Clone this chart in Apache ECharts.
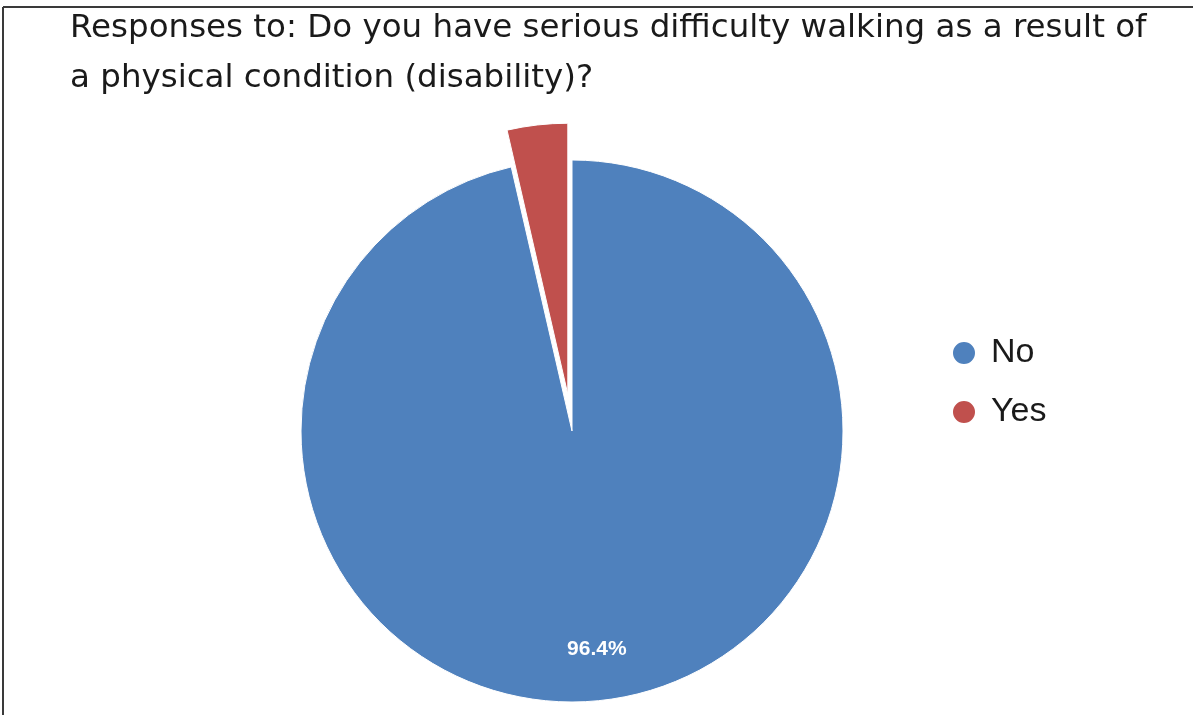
<!DOCTYPE html>
<html>
<head>
<meta charset="utf-8">
<style>
  html, body { margin: 0; padding: 0; background: #fff; }
  #chart { width: 1193px; height: 715px; }
</style>
<script src="https://cdn.jsdelivr.net/npm/echarts@6/dist/echarts.min.js"></script>
</head>
<body>
<div id="chart"></div>
<script>
// Survey responses (percent of respondents)
const categories = ['No', 'Yes'];
const shares = [96.4, 3.6];
const sliceColors = ['#4F81BD', '#C0504D'];
const titleText = 'Responses to: Do you have serious difficulty walking as a result of\na physical condition (disability)?';

const pieData = categories.map((name, i) => ({
  name: name,
  value: shares[i],
  selected: name === 'Yes',
  itemStyle: { color: sliceColors[i] }
}));

// transparent ring carrying the percentage label further out on the slice
const labelData = categories.map((name, i) => ({
  name: name,
  value: shares[i],
  itemStyle: { color: 'rgba(0,0,0,0)' },
  label: { show: name === 'No' }
}));

const chart = echarts.init(document.getElementById('chart'), null, { renderer: 'canvas' });

chart.setOption({
  animation: false,
  backgroundColor: '#ffffff',
  title: {
    text: titleText,
    left: 70,
    top: 4,
    padding: 0,
    textStyle: {
      fontFamily: 'DejaVu Sans',
      fontWeight: 'normal',
      fontSize: 32.5,
      lineHeight: 50,
      color: '#1a1a1a'
    }
  },
  legend: {
    orient: 'vertical',
    left: 946,
    top: 331,
    itemWidth: 24,
    itemHeight: 24,
    itemGap: 25,
    icon: 'circle',
    selectedMode: false,
    textStyle: {
      fontFamily: 'Liberation Sans',
      fontSize: 34,
      color: '#1a1a1a',
      padding: [0, 0, 0, 10]
    },
    data: categories
  },
  // frame edges along the top and left of the chart area
  graphic: [
    {
      type: 'line',
      shape: { x1: 3, y1: 7, x2: 1193, y2: 7 },
      style: { stroke: '#3a3a3a', lineWidth: 2 },
      silent: true
    },
    {
      type: 'line',
      shape: { x1: 3, y1: 7, x2: 3, y2: 715 },
      style: { stroke: '#3a3a3a', lineWidth: 2 },
      silent: true
    }
  ],
  series: [
    {
      type: 'pie',
      center: [572, 431],
      radius: 271,
      startAngle: 90,
      clockwise: true,
      selectedMode: 'single',
      selectedOffset: 37,
      label: { show: false },
      labelLine: { show: false },
      emphasis: { disabled: true },
      itemStyle: { borderColor: '#ffffff', borderWidth: 1 },
      data: pieData
    },
    {
      type: 'pie',
      center: [572, 431],
      radius: [163, 271],
      startAngle: 90,
      clockwise: true,
      silent: true,
      selectedMode: false,
      emphasis: { disabled: true },
      labelLine: { show: false },
      label: {
        position: 'inside',
        formatter: '{d}%',
        fontFamily: 'Liberation Sans',
        fontWeight: 'bold',
        fontSize: 21,
        color: '#ffffff'
      },
      data: labelData
    }
  ]
});
</script>
</body>
</html>
